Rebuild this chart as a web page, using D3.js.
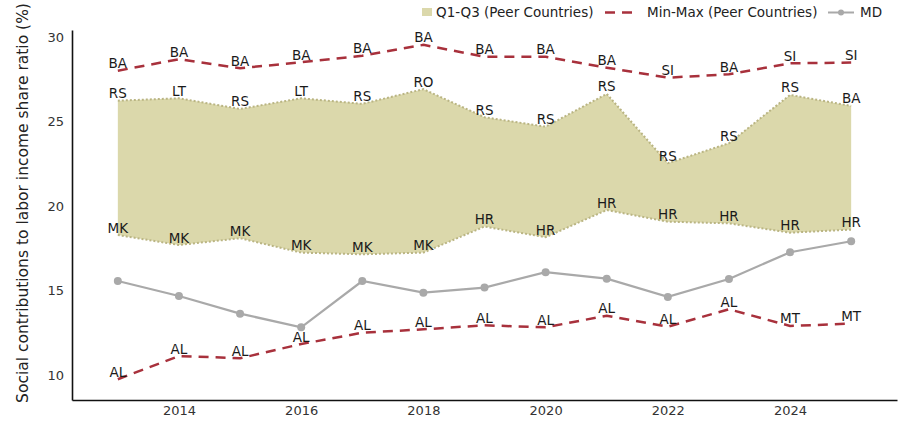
<!DOCTYPE html>
<html>
<head>
<meta charset="utf-8">
<script src="https://cdn.jsdelivr.net/npm/d3@7"></script>
<style>
  html, body { margin: 0; padding: 0; background: #fff; }
  svg { display: block; font-family: "DejaVu Sans", Verdana, sans-serif; }
</style>
</head>
<body>
<svg id="chart" width="901" height="422"></svg>
<script>
// Years on the x axis
const years = [2013, 2014, 2015, 2016, 2017, 2018, 2019, 2020, 2021, 2022, 2023, 2024, 2025];
const xTicks = [2014, 2016, 2018, 2020, 2022, 2024];
const yTicks = [10, 15, 20, 25, 30];

// Moldova
const md = [15.56, 14.67, 13.63, 12.82, 15.56, 14.87, 15.17, 16.08, 15.70, 14.62, 15.68, 17.26, 17.91];

// Peer-country range: min / max and interquartile band
const minVals = [9.75, 11.12, 10.99, 11.83, 12.50, 12.70, 12.94, 12.82, 13.51, 12.86, 13.89, 12.90, 13.04];
const maxVals = [28.00, 28.68, 28.15, 28.50, 28.89, 29.53, 28.83, 28.83, 28.18, 27.59, 27.79, 28.44, 28.48];
const q1Vals = [18.28, 17.69, 18.09, 17.24, 17.14, 17.24, 18.78, 18.15, 19.76, 19.07, 18.97, 18.42, 18.60];
const q3Vals = [26.23, 26.37, 25.74, 26.37, 26.04, 26.91, 25.25, 24.69, 26.63, 22.53, 23.71, 26.57, 25.92];

// Country codes at each peer statistic
const minLabels = ["AL", "AL", "AL", "AL", "AL", "AL", "AL", "AL", "AL", "AL", "AL", "MT", "MT"];
const maxLabels = ["BA", "BA", "BA", "BA", "BA", "BA", "BA", "BA", "BA", "SI", "BA", "SI", "SI"];
const q1Labels = ["MK", "MK", "MK", "MK", "MK", "MK", "HR", "HR", "HR", "HR", "HR", "HR", "HR"];
const q3Labels = ["RS", "LT", "RS", "LT", "RS", "RO", "RS", "RS", "RS", "RS", "RS", "RS", "BA"];

const legendNames = ["Q1-Q3 (Peer Countries)", "Min-Max (Peer Countries)", "MD"];
const yTitle = "Social contributions to labor income share ratio (%)";

const svg = d3.select("#chart");
const plotLeft = 72, plotRight = 897, plotTop = 30, plotBottom = 400;

const x = d3.scaleLinear().domain([2012.25, 2025.75]).range([plotLeft, plotRight]);
const y = d3.scaleLinear().domain([8.52, 30.41]).range([plotBottom, plotTop]);

const BAND = "#dbd8ab";
const BAND_EDGE = "#bab583";
const RANGE = "#a8313c";
const MDC = "#a9a9a9";

// Interquartile band
const rows = years.map((yr, i) => ({ yr, lo: q1Vals[i], hi: q3Vals[i] }));
svg.append("path")
  .datum(rows)
  .attr("fill", BAND)
  .attr("d", d3.area().x(d => x(d.yr)).y0(d => y(d.lo)).y1(d => y(d.hi)));

const edge = (vals) => d3.line().x((d, i) => x(years[i])).y(d => y(d))(vals);
[q1Vals, q3Vals].forEach(vals => {
  svg.append("path")
    .attr("d", edge(vals))
    .attr("fill", "none")
    .attr("stroke", BAND_EDGE)
    .attr("stroke-width", 2)
    .attr("stroke-dasharray", "2,2");
});

// Min and max dashed lines
[minVals, maxVals].forEach(vals => {
  svg.append("path")
    .attr("d", edge(vals))
    .attr("fill", "none")
    .attr("stroke", RANGE)
    .attr("stroke-width", 2.5)
    .attr("stroke-dasharray", "10,7");
});

// Moldova line with markers
svg.append("path")
  .attr("d", edge(md))
  .attr("fill", "none")
  .attr("stroke", MDC)
  .attr("stroke-width", 2.2);
svg.selectAll("circle.md")
  .data(md)
  .join("circle")
  .attr("class", "md")
  .attr("cx", (d, i) => x(years[i]))
  .attr("cy", d => y(d))
  .attr("r", 4)
  .attr("fill", MDC);

// Country code annotations
const annotate = (vals, labels) => {
  svg.append("g").selectAll("text")
    .data(vals)
    .join("text")
    .attr("x", (d, i) => x(years[i]))
    .attr("y", d => y(d) - 2.5)
    .attr("text-anchor", "middle")
    .attr("font-size", 13.5)
    .attr("fill", "#1a1a1a")
    .text((d, i) => labels[i]);
};
annotate(maxVals, maxLabels);
annotate(q3Vals, q3Labels);
annotate(q1Vals, q1Labels);
annotate(minVals, minLabels);

// Axes
const xAxis = svg.append("g")
  .attr("transform", `translate(0,${plotBottom})`)
  .call(d3.axisBottom(x).tickValues(xTicks).tickFormat(d3.format("d")).tickSize(0).tickPadding(6));
const yAxis = svg.append("g")
  .attr("transform", `translate(${plotLeft},0)`)
  .call(d3.axisLeft(y).tickValues(yTicks).tickSize(0).tickPadding(8));
[xAxis, yAxis].forEach(g => {
  g.select(".domain").attr("stroke", "#111").attr("stroke-width", 1.6);
  g.selectAll("text").attr("font-size", 13).attr("fill", "#333")
    .attr("font-family", "DejaVu Sans, Verdana, sans-serif");
});

svg.append("text")
  .attr("transform", `translate(23,${203}) rotate(-90)`)
  .attr("text-anchor", "middle")
  .attr("dominant-baseline", "middle")
  .attr("font-size", 15.5)
  .attr("fill", "#222")
  .text(yTitle);

// Legend
const lg = svg.append("g").attr("font-size", 13.5).attr("fill", "#222");
lg.append("rect").attr("x", 422).attr("y", 8).attr("width", 10).attr("height", 8).attr("fill", BAND);
lg.append("text").attr("x", 436).attr("y", 12.5).attr("dominant-baseline", "middle").text(legendNames[0]);
lg.append("line").attr("x1", 605).attr("x2", 634).attr("y1", 12.5).attr("y2", 12.5)
  .attr("stroke", RANGE).attr("stroke-width", 2.5).attr("stroke-dasharray", "10,7");
lg.append("text").attr("x", 647).attr("y", 12.5).attr("dominant-baseline", "middle").text(legendNames[1]);
lg.append("line").attr("x1", 828).attr("x2", 854).attr("y1", 12.5).attr("y2", 12.5)
  .attr("stroke", MDC).attr("stroke-width", 2);
lg.append("circle").attr("cx", 841).attr("cy", 12.5).attr("r", 3).attr("fill", MDC);
lg.append("text").attr("x", 860).attr("y", 12.5).attr("dominant-baseline", "middle").text(legendNames[2]);
</script>
</body>
</html>
